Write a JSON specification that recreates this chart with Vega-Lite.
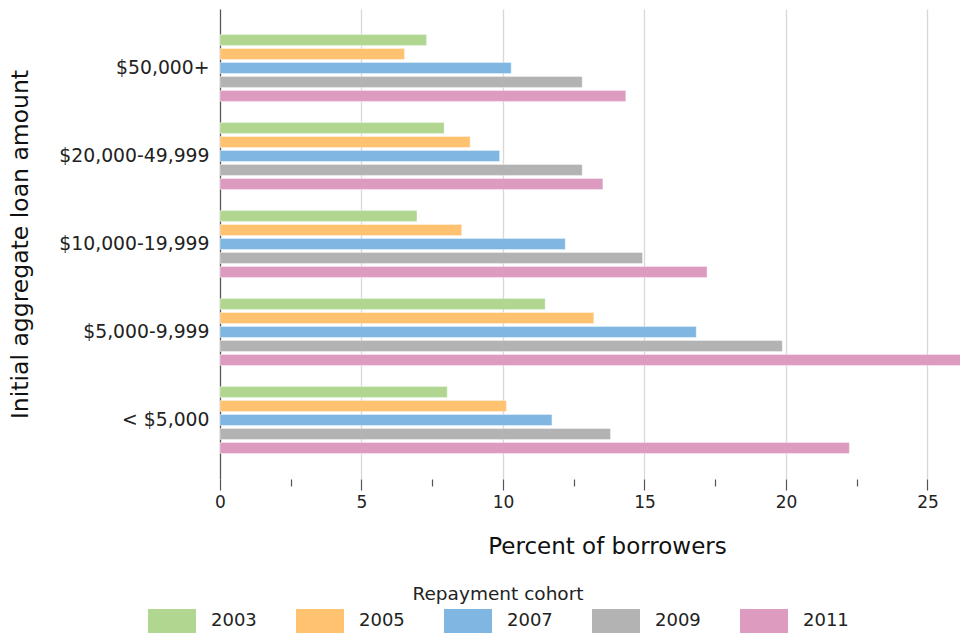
{
  "$schema": "https://vega.github.io/schema/vega-lite/v6.json",
  "width": 740,
  "height": 470,
  "autosize": "none",
  "padding": {"left": 220, "top": 9, "right": 0, "bottom": 156},
  "background": "white",
  "config": {"view": {"stroke": null}, "font": "DejaVu Sans"},
  "data": {
    "values": [
      {"amount": "$50,000+", "cohort": "2003", "pct": 7.30},
      {"amount": "$50,000+", "cohort": "2005", "pct": 6.52},
      {"amount": "$50,000+", "cohort": "2007", "pct": 10.29},
      {"amount": "$50,000+", "cohort": "2009", "pct": 12.80},
      {"amount": "$50,000+", "cohort": "2011", "pct": 14.34},
      {"amount": "$20,000-49,999", "cohort": "2003", "pct": 7.92},
      {"amount": "$20,000-49,999", "cohort": "2005", "pct": 8.84},
      {"amount": "$20,000-49,999", "cohort": "2007", "pct": 9.88},
      {"amount": "$20,000-49,999", "cohort": "2009", "pct": 12.80},
      {"amount": "$20,000-49,999", "cohort": "2011", "pct": 13.53},
      {"amount": "$10,000-19,999", "cohort": "2003", "pct": 6.96},
      {"amount": "$10,000-19,999", "cohort": "2005", "pct": 8.54},
      {"amount": "$10,000-19,999", "cohort": "2007", "pct": 12.20},
      {"amount": "$10,000-19,999", "cohort": "2009", "pct": 14.93},
      {"amount": "$10,000-19,999", "cohort": "2011", "pct": 17.21},
      {"amount": "$5,000-9,999", "cohort": "2003", "pct": 11.49},
      {"amount": "$5,000-9,999", "cohort": "2005", "pct": 13.21},
      {"amount": "$5,000-9,999", "cohort": "2007", "pct": 16.83},
      {"amount": "$5,000-9,999", "cohort": "2009", "pct": 19.87},
      {"amount": "$5,000-9,999", "cohort": "2011", "pct": 27.0},
      {"amount": "< $5,000", "cohort": "2003", "pct": 8.03},
      {"amount": "< $5,000", "cohort": "2005", "pct": 10.12},
      {"amount": "< $5,000", "cohort": "2007", "pct": 11.73},
      {"amount": "< $5,000", "cohort": "2009", "pct": 13.80},
      {"amount": "< $5,000", "cohort": "2011", "pct": 22.24}
    ]
  },
  "mark": {"type": "bar", "clip": true, "stroke": "white", "strokeWidth": 0.6, "strokeOpacity": 0.6},
  "encoding": {
    "y": {
      "field": "amount",
      "type": "nominal",
      "sort": ["$50,000+", "$20,000-49,999", "$10,000-19,999", "$5,000-9,999", "< $5,000"],
      "scale": {"paddingInner": 0.24, "paddingOuter": 0.29},
      "axis": {
        "title": "Initial aggregate loan amount",
        "titleFontSize": 23.5,
        "titleFontWeight": "normal",
        "titleColor": "#111",
        "titlePadding": 26,
        "labelFontSize": 18.8,
        "labelColor": "#222",
        "labelPadding": 11,
        "labelLimit": 300,
        "ticks": false,
        "grid": false,
        "domainColor": "#555",
        "domainWidth": 1.2
      }
    },
    "yOffset": {
      "field": "cohort",
      "type": "nominal",
      "sort": ["2003", "2005", "2007", "2009", "2011"],
      "scale": {"paddingInner": 0.21, "paddingOuter": 0}
    },
    "x": {
      "field": "pct",
      "type": "quantitative",
      "scale": {"domain": [0, 26.15], "nice": false, "zero": true},
      "axis": {
        "values": [0, 2.5, 5, 7.5, 10, 12.5, 15, 17.5, 20, 22.5, 25],
        "labelExpr": "datum.value % 5 === 0 ? datum.label : ''",
        "labelFlush": false,
        "grid": true,
        "gridColor": "#d8d8d8",
        "gridWidth": 1.3,
        "gridOpacity": {"condition": {"test": "datum.value % 5 !== 0", "value": 0}, "value": 1},
        "tickSize": {"condition": {"test": "datum.value % 5 !== 0", "value": 7}, "value": 11},
        "tickColor": "#555",
        "tickWidth": 1.2,
        "domain": false,
        "labelFontSize": 17,
        "labelColor": "#222",
        "labelPadding": 4,
        "title": "Percent of borrowers",
        "titleX": 387,
        "titleFontSize": 23,
        "titleFontWeight": "normal",
        "titleColor": "#111",
        "titlePadding": 25
      }
    },
    "color": {
      "field": "cohort",
      "type": "nominal",
      "scale": {
        "domain": ["2003", "2005", "2007", "2009", "2011"],
        "range": ["#b0d690", "#fec271", "#80b6e2", "#b3b3b3", "#dd9bc0"]
      },
      "legend": {
        "orient": "none",
        "legendX": -72,
        "legendY": 575.5,
        "direction": "horizontal",
        "title": "Repayment cohort",
        "titleFontSize": 18.5,
        "titleFontWeight": "normal",
        "titleColor": "#222",
        "titleAnchor": "middle",
        "titlePadding": -6,
        "labelFontSize": 18,
        "labelColor": "#222",
        "labelOffset": 15,
        "columnPadding": 39,
        "symbolType": "M-1,-0.5H1V0.5H-1Z",
        "symbolSize": 2304,
        "symbolStrokeWidth": 0,
        "symbolOpacity": 1,
        "padding": 0
      }
    }
  }
}
